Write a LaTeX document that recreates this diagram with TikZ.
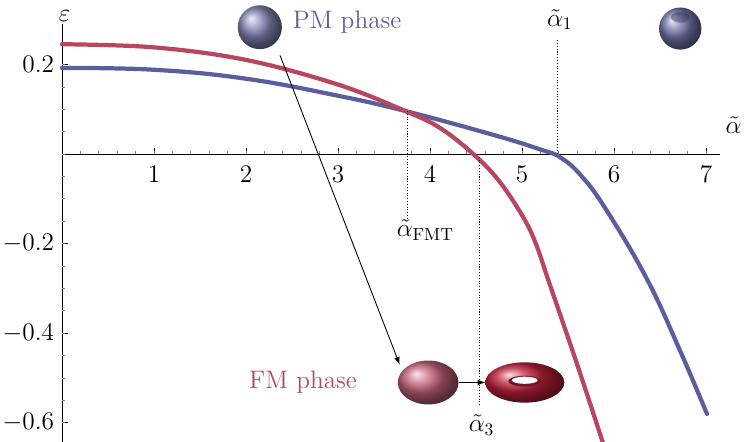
\documentclass[tikz,border=0pt]{standalone}
\usepackage{amsmath}
\definecolor{pmblue}{HTML}{5B5E9E}
\definecolor{fmred}{HTML}{B8465F}
\definecolor{torusred}{HTML}{C0203A}
\begin{document}
\begin{tikzpicture}
  \tikzset{curve/.style={line width=2.4pt,line cap=round},
           guide/.style={densely dotted,line width=0.6pt},
           lbl/.style={font=\Large}}
  \useasboundingbox (0,0) rectangle (14.96,8.84);
  \begin{scope}[shift={(1.24,5.76)},x=1.84cm,y=8.96cm]
  % axes
  \draw [line width=0.4pt] (0,0) -- (7.15,0);
  \draw [line width=0.4pt] (0,-0.66) -- (0,0.29);
  \foreach \i in {1,...,7}
    \draw (\i,0) -- (\i,0.013) node [at start,below=3pt,lbl] {\i};
  \foreach \i in {0.2,0.4,...,7.1}
    \draw [gray] (\i,0) -- (\i,0.007);
  \foreach \j/\t in {0.2/0.2,-0.2/-0.2,-0.4/-0.4,-0.6/-0.6}
    \draw (0,\j) -- (0.07,\j) node [at start,left=1pt,lbl] {$\t$};
  \foreach \j in {-0.65,-0.6,...,0.28}
    \draw [gray] (0,\j) -- (0.035,\j);
  \node [lbl] at (0.03,0.307) {$\varepsilon$};
  \node [lbl] at (7.3,0.065) {$\tilde{\alpha}$};
  % curves
  \draw [curve,pmblue] plot [smooth,tension=0.7] coordinates
    {(0,0.192) (1,0.188) (2,0.168) (3,0.13) (3.73,0.096) (4.7,0.042) (5.2,0.01) (5.42,-0.008) (5.65,-0.05) (5.92,-0.126) (6.36,-0.28) (6.72,-0.44) (7.01,-0.58)};
  \draw [curve,fmred] plot [smooth,tension=0.6] coordinates
    {(0,0.245) (1,0.238) (2,0.21) (3,0.155) (3.73,0.096) (4.11,0.058) (4.47,0.0) (4.75,-0.06) (5.01,-0.14) (5.15,-0.2) (5.3,-0.29) (5.6,-0.47) (5.88,-0.645)};
  % guides
  \draw [guide] (3.76,0.096) -- (3.76,-0.143);
  \node [lbl] (afmt) at (3.95,-0.17) {$\tilde{\alpha}_{\mathrm{FMT}}$};
  \draw [guide] (5.39,0.254) -- (5.39,0);
  \node [lbl] (a1) at (5.41,0.30) {$\tilde{\alpha}_1$};
  \draw [guide] (4.54,0) -- (4.54,-0.56);
  \node [lbl] (a3) at (4.56,-0.605) {$\tilde{\alpha}_3$};
  % phases
  \node [lbl,pmblue] at (3.1,0.295) {PM phase};
  \node [lbl,fmred] at (2.62,-0.51) {FM phase};
  % shapes
  \shade [ball color=pmblue!75!white] (2.15,0.283) ellipse (0.24 and 0.049);
  \shade [ball color=pmblue!85!white] (6.72,0.28) ellipse (0.23 and 0.047);
  \fill [pmblue!50!black,opacity=0.45] (6.72,0.305) ellipse (0.1 and 0.012);
  \shade [ball color=fmred!85!white] (3.98,-0.51) ellipse (0.33 and 0.049);
  \shade [ball color=torusred] (5.03,-0.51) ellipse (0.43 and 0.045);
  \fill [torusred!60!black] (5.03,-0.507) ellipse (0.18 and 0.012);
  \fill [white] (5.03,-0.505) ellipse (0.14 and 0.008);
  \coordinate (s0) at (2.37,0.22);
  \coordinate (s1) at (3.67,-0.47);
  \draw [-latex,line width=0.5pt] (s0) -- (s1);
  \coordinate (e0) at (4.31,-0.51);
  \coordinate (e1) at (4.6,-0.51);
  \draw [-latex,line width=0.5pt] (e0) -- (e1);
  \end{scope}
\end{tikzpicture}
\end{document}
